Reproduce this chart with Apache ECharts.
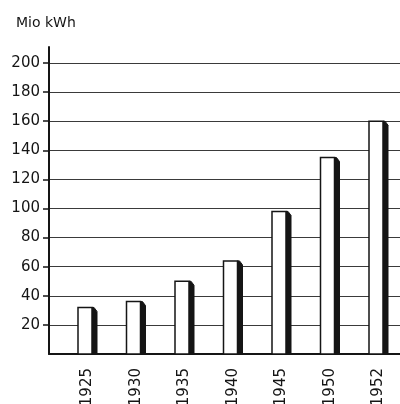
<!DOCTYPE html>
<html>
<head>
<meta charset="utf-8">
<script src="https://cdn.jsdelivr.net/npm/echarts@6/dist/echarts.min.js"></script>
<style>
  html, body { margin: 0; padding: 0; background: #fff; }
  #chart { width: 400px; height: 404px; }
</style>
</head>
<body>
<div id="chart"></div>
<script>
// Electricity production, million kWh
const years = ['1925', '1930', '1935', '1940', '1945', '1950', '1952'];
const production = [32, 36, 50, 64, 98, 135, 160];
const unitLabel = 'Mio kWh';
const yMin = 0, yMax = 200, yStep = 20;
const yTickValues = [20, 40, 60, 80, 100, 120, 140, 160, 180, 200];

const FONT = 'DejaVu Sans';
const INK = '#151515';

const chart = echarts.init(document.getElementById('chart'), null, { renderer: 'canvas' });

// Bar drawn as a white column with a dark shaded side face
function renderBar(params, api) {
  const top = api.coord([api.value(0), api.value(1)]);
  const base = api.coord([api.value(0), 0]);
  const cx = top[0];
  const faceW = 14, sideW = 5;
  const left = cx - (faceW + sideW) / 2;
  const sideX = left + faceW;
  return {
    type: 'group',
    children: [
      {
        type: 'polygon',
        shape: { points: [
          [sideX, top[1]], [sideX + 2, top[1]], [sideX + sideW, top[1] + 4],
          [sideX + sideW, base[1]], [sideX, base[1]]
        ] },
        style: { fill: INK, stroke: INK, lineWidth: 1 }
      },
      {
        type: 'rect',
        shape: { x: left, y: top[1], width: faceW, height: base[1] - top[1] },
        style: { fill: '#fff', stroke: INK, lineWidth: 1.5 }
      }
    ]
  };
}

chart.setOption({
  animation: false,
  backgroundColor: '#fff',
  title: {
    text: unitLabel,
    left: 16, top: 16, padding: 0,
    textStyle: { fontFamily: FONT, fontSize: 14, fontWeight: 'normal', color: INK }
  },
  grid: [
    { left: 49, right: 0, top: 47, bottom: 50, outerBoundsMode: 'none' },   // tall vertical axis line
    { left: 49, right: 0, top: 63, bottom: 50, outerBoundsMode: 'none' },   // value scale, gridlines, baseline
    { left: 63.25, right: -2.75, top: 63, bottom: 50, outerBoundsMode: 'none' } // bars and year labels
  ],
  xAxis: [
    { gridIndex: 0, type: 'value', show: false },
    {
      gridIndex: 1, type: 'value', min: 0, max: 1,
      axisLine: { show: true, lineStyle: { color: INK, width: 2 } },
      axisTick: { show: false }, axisLabel: { show: false }, splitLine: { show: false }
    },
    {
      gridIndex: 2, type: 'category', data: years,
      axisLine: { show: false }, axisTick: { show: false },
      axisLabel: {
        rotate: 90, margin: 14, fontFamily: FONT, fontSize: 15, color: INK
      }
    }
  ],
  yAxis: [
    {
      gridIndex: 0, type: 'value', min: 0, max: 1,
      axisLine: { show: true, lineStyle: { color: INK, width: 2 } },
      axisTick: { show: false }, axisLabel: { show: false }, splitLine: { show: false }
    },
    {
      gridIndex: 1, type: 'value', min: yMin, max: yMax, interval: yStep,
      axisLine: { show: false },
      axisTick: { show: true, length: 6, customValues: yTickValues, lineStyle: { color: INK, width: 1.5 } },
      axisLabel: {
        margin: 9, fontFamily: FONT, fontSize: 15, color: INK,
        customValues: yTickValues
      },
      splitLine: { show: true, lineStyle: { color: '#3a3a3a', width: 1 } }
    },
    { gridIndex: 2, type: 'value', min: yMin, max: yMax, show: false }
  ],
  series: [
    {
      type: 'custom',
      xAxisIndex: 2, yAxisIndex: 2,
      renderItem: renderBar,
      data: years.map((y, i) => [i, production[i]])
    }
  ]
});
</script>
</body>
</html>
